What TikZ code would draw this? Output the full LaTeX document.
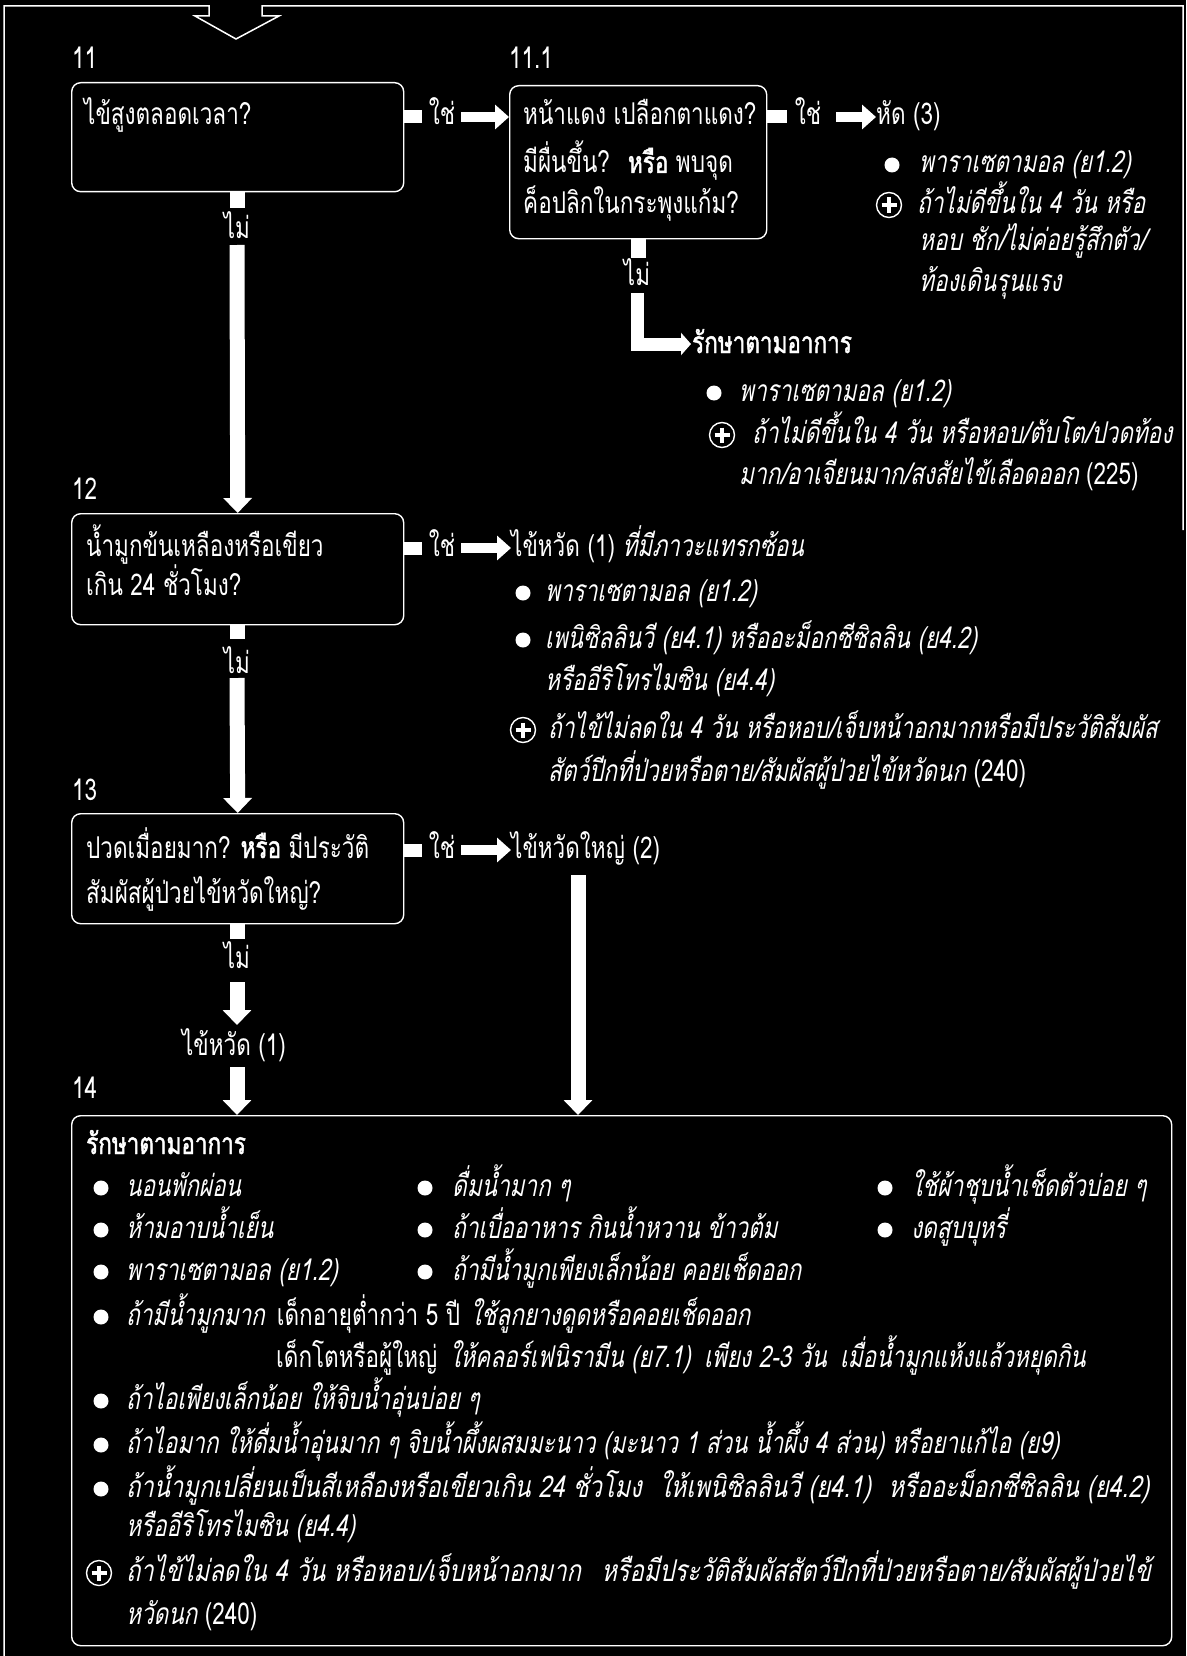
\documentclass[tikz,border=0pt]{standalone}
\usepackage{graphicx}
\usepackage{fontspec}
\setmainfont{Loma}[Script=Thai, FakeStretch=0.75, AutoFakeSlant=0.2, AutoFakeBold=1.5]
\usetikzlibrary{arrows.meta,calc}
\newcommand\fsz{\fontsize{30}{36}\selectfont}
\tikzset{
  txt/.style={anchor=base west, inner sep=0pt, text=white, font=\fsz},
  lbl/.style={anchor=base, inner sep=0pt, text=white, font=\fsz},
  qbox/.style={draw=white, line width=1.4pt, rounded corners=9pt, anchor=north west, inner sep=0pt},
  hbar/.style={white, line width=13pt},
  fat/.style={white, line width=10pt, -{Triangle[length=14pt,width=24pt]}},
  vbar/.style={white, line width=15pt},
  vfat/.style={white, line width=15pt, -{Triangle[length=15pt,width=28pt]}},
  lfat/.style={white, line width=13pt, -{Triangle[length=10pt,width=22pt]}},
  frame/.style={white, line width=1.5pt},
  bul/.pic={\fill[white] (0,0) circle (7.5);},
  pluss/.pic={\draw[white,line width=1.4pt] (0,0) circle (12.5);
              \draw[white,line width=4pt] (-7.5,0)--(7.5,0) (0,-7.5)--(0,7.5);}
}
\begin{document}
\begin{tikzpicture}[x=1pt,y=-1pt]
\fill[black] (0,0) rectangle (1186,1656);
\useasboundingbox (0,0) rectangle (1186,1656);
% frame with entry arrow
\draw[frame] (4,1656) -- (4,6) -- (209,6) -- (209,16) -- (195,16) -- (236,39) -- (279,16) -- (262,16) -- (262,6) -- (1183,6) -- (1183,530);

% step numbers
\node[txt] (l11) at (72,69) {11};
\node[txt] (l111) at (509,69) {11.1};
\node[txt] (l12) at (72,499) {12};
\node[txt] (l13) at (72,800) {13};
\node[txt] (l14) at (72,1098) {14};

% ---------- 11 ----------
\node[qbox, minimum width=332pt, minimum height=109pt] (b11) at (71,82) {};
\node[txt] (q11) at (84,125) {ไข้สูงตลอดเวลา?};
\node[lbl] (y11) at (442,125) {ใช่};
\draw[hbar] (b11.east |- 0,117) -- ++(18,0);
\node[qbox, minimum width=257pt, minimum height=153pt] (b111) at (509,85) {};
\draw[fat] (461,117) -- (b111.west |- 0,117);
\node[txt] (q111a) at (523,125) {หน้าแดง เปลือกตาแดง?};
\node[txt] (q111b) at (523,173) {มีผื่นขึ้น?\hspace{8pt} \textbf{หรือ} พบจุด};
\node[txt] (q111c) at (523,213) {ค็อปลิกในกระพุงแก้ม?};

\node[lbl] (y111) at (808,125) {ใช่};
\draw[hbar] (b111.east |- 0,117) -- ++(20,0);
\node[txt] (d3) at (876,125) {หัด (3)};
\draw[fat] (836,117) -- (d3.base west |- 0,117);
\pic at (892,165) {bul};
\node[txt] (d3a) at (919,173) {\itshape พาราเซตามอล (ย1.2)};
\pic at (889,205) {pluss};
\node[txt] (d3b) at (917,213) {\itshape ถ้าไม่ดีขึ้นใน 4 วัน หรือ};
\node[txt] (d3c) at (919,250) {\itshape หอบ ชัก/ไม่ค่อยรู้สึกตัว/};
\node[txt] (d3d) at (919,291) {\itshape ท้องเดินรุนแรง};

\draw[vbar] (b111.south) -- ++(0,19);
\node[lbl] (n111) at (637,285) {ไม่};
\node[txt] (r111) at (692,353) {\bfseries รักษาตามอาการ};
\draw[lfat] (637,293) |- ($(r111.base west)+(-1,-9)$);
\pic at (714,393) {bul};
\node[txt] (r111a) at (739,401) {\itshape พาราเซตามอล (ย1.2)};
\pic at (722,435) {pluss};
\node[txt] (r111b) at (752,443) {\itshape ถ้าไม่ดีขึ้นใน 4 วัน หรือหอบ/ตับโต/ปวดท้อง};
\node[txt] (r111c) at (739,484) {\itshape มาก/อาเจียนมาก/สงสัยไข้เลือดออก \upshape(225)};

\draw[vbar] (b11.south) -- ++(0,16);
\node[lbl] (n11) at (237,238) {ไม่};

% ---------- 12 ----------
\node[qbox, minimum width=332pt, minimum height=111pt] (b12) at (71,513) {};
\draw[vfat] (237,245) -- (b12.north);
\node[txt] (q12a) at (86,556) {น้ำมูกข้นเหลืองหรือเขียว};
\node[txt] (q12b) at (86,595) {เกิน 24 ชั่วโมง?};
\draw[hbar] (b12.east |- 0,548) -- ++(18,0);
\node[lbl] (y12) at (442,556) {ใช่};
\node[txt] (d1) at (511,556) {ไข้หวัด (1) \itshape ที่มีภาวะแทรกซ้อน};
\draw[fat] (461,548) -- (d1.base west |- 0,548);
\pic at (523,593) {bul};
\node[txt] (d1a) at (545,601) {\itshape พาราเซตามอล (ย1.2)};
\pic at (523,640) {bul};
\node[txt] (d1b) at (545,648) {\itshape เพนิซิลลินวี (ย4.1) หรืออะม็อกซีซิลลิน (ย4.2)};
\node[txt] (d1c) at (545,690) {\itshape หรืออีริโทรไมซิน (ย4.4)};
\pic at (523,730) {pluss};
\node[txt] (d1d) at (548,738) {\itshape ถ้าไข้ไม่ลดใน 4 วัน หรือหอบ/เจ็บหน้าอกมากหรือมีประวัติสัมผัส};
\node[txt] (d1e) at (548,781) {\itshape สัตว์ปีกที่ป่วยหรือตาย/สัมผัสผู้ป่วยไข้หวัดนก \upshape(240)};

\draw[vbar] (b12.south) -- ++(0,14);
\node[lbl] (n12) at (237,673) {ไม่};

% ---------- 13 ----------
\node[qbox, minimum width=332pt, minimum height=110pt] (b13) at (71,813) {};
\draw[vfat] (237,678) -- (b13.north);
\node[txt] (q13a) at (86,858) {ปวดเมื่อยมาก? \textbf{หรือ} มีประวัติ};
\node[txt] (q13b) at (86,903) {สัมผัสผู้ป่วยไข้หวัดใหญ่?};
\draw[hbar] (b13.east |- 0,850) -- ++(18,0);
\node[lbl] (y13) at (442,858) {ใช่};
\node[txt] (d2) at (511,858) {ไข้หวัดใหญ่ (2)};
\draw[fat] (461,850) -- (d2.base west |- 0,850);

\draw[vbar] (b13.south) -- ++(0,15);
\node[lbl] (n13) at (237,968) {ไม่};
\node[lbl] (d1x) at (234,1055) {ไข้หวัด (1)};
\draw[vfat] (237,982) -- (237,1025);

% ---------- 14 ----------
\node[qbox, minimum width=1100pt, minimum height=530pt] (b14) at (71,1115) {};
\draw[vfat] (237,1067) -- (b14.north -| 237,0);
\draw[vfat] (578,875) -- (b14.north -| 578,0);
\node[txt] (t0) at (86,1154) {\bfseries รักษาตามอาการ};
% row 1
\pic at (101,1188) {bul}; \node[txt] (t1a) at (126,1196) {\itshape นอนพักผ่อน};
\pic at (425,1188) {bul}; \node[txt] (t1b) at (452,1196) {\itshape ดื่มน้ำมาก ๆ};
\pic at (885,1188) {bul}; \node[txt] (t1c) at (911,1196) {\itshape ใช้ผ้าชุบน้ำเช็ดตัวบ่อย ๆ};
% row 2
\pic at (101,1230) {bul}; \node[txt] (t2a) at (126,1238) {\itshape ห้ามอาบน้ำเย็น};
\pic at (425,1230) {bul}; \node[txt] (t2b) at (452,1238) {\itshape ถ้าเบื่ออาหาร กินน้ำหวาน ข้าวต้ม};
\pic at (885,1230) {bul}; \node[txt] (t2c) at (911,1238) {\itshape งดสูบบุหรี่};
% row 3
\pic at (101,1272) {bul}; \node[txt] (t3a) at (126,1280) {\itshape พาราเซตามอล (ย1.2)};
\pic at (425,1272) {bul}; \node[txt] (t3b) at (452,1280) {\itshape ถ้ามีน้ำมูกเพียงเล็กน้อย คอยเช็ดออก};
% row 4
\pic at (101,1317) {bul}; \node[txt] (t4) at (126,1325) {\itshape ถ้ามีน้ำมูกมาก\hspace{12pt}\upshape เด็กอายุต่ำกว่า 5 ปี\hspace{10pt}\itshape ใช้ลูกยางดูดหรือคอยเช็ดออก};
% row 5
\node[txt] (t5) at (276,1367) {เด็กโตหรือผู้ใหญ่\hspace{12pt}\itshape ให้คลอร์เฟนิรามีน (ย7.1)\hspace{6pt} เพียง 2-3 วัน\hspace{6pt} เมื่อน้ำมูกแห้งแล้วหยุดกิน};
% row 6
\pic at (101,1401) {bul}; \node[txt] (t6) at (126,1409) {\itshape ถ้าไอเพียงเล็กน้อย ให้จิบน้ำอุ่นบ่อย ๆ};
% row 7
\pic at (101,1445) {bul}; \node[txt] (t7) at (126,1453) {\itshape ถ้าไอมาก ให้ดื่มน้ำอุ่นมาก ๆ จิบน้ำผึ้งผสมมะนาว (มะนาว 1 ส่วน น้ำผึ้ง 4 ส่วน) หรือยาแก้ไอ (ย9)};
% row 8
\pic at (101,1489) {bul}; \node[txt] (t8) at (126,1497) {\scalebox{1.05}[1]{\itshape ถ้าน้ำมูกเปลี่ยนเป็นสีเหลืองหรือเขียวเกิน 24 ชั่วโมง\hspace{9pt} ให้เพนิซิลลินวี (ย4.1)\hspace{9pt} หรืออะม็อกซีซิลลิน (ย4.2)}};
\node[txt] (t9) at (126,1536) {\itshape หรืออีริโทรไมซิน (ย4.4)};
% row 10
\pic at (99,1573) {pluss}; \node[txt] (t10) at (126,1581) {\scalebox{1.05}[1]{\itshape ถ้าไข้ไม่ลดใน 4 วัน หรือหอบ/เจ็บหน้าอกมาก\hspace{12pt} หรือมีประวัติสัมผัสสัตว์ปีกที่ป่วยหรือตาย/สัมผัสผู้ป่วยไข้}};
\node[txt] (t11) at (126,1624) {\itshape หวัดนก \upshape(240)};
\end{tikzpicture}
\end{document}
